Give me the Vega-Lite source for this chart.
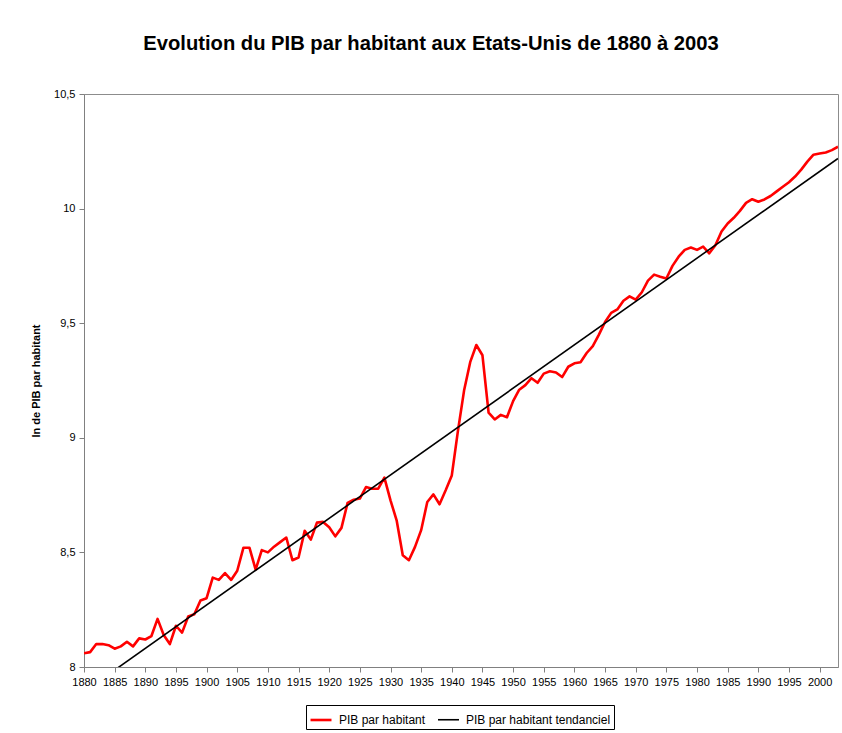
{
  "$schema": "https://vega.github.io/schema/vega-lite/v6.json",
  "width": 754,
  "height": 573,
  "autosize": {"type": "none"},
  "padding": {"left": 84, "top": 94, "right": 4, "bottom": 66},
  "background": "white",
  "config": {
    "font": "Liberation Sans",
    "view": {"stroke": "#8c8c8c", "strokeWidth": 1}
  },
  "title": {
    "text": "Evolution du PIB par habitant aux Etats-Unis de 1880 à 2003",
    "fontSize": 20.2,
    "fontWeight": "bold",
    "color": "#000000",
    "anchor": "middle",
    "dx": -30,
    "offset": 34
  },
  "data": {
    "values": [
      {"annee": 1880, "valeur": 8.06, "serie": "PIB par habitant"},
      {"annee": 1881, "valeur": 8.065, "serie": "PIB par habitant"},
      {"annee": 1882, "valeur": 8.1, "serie": "PIB par habitant"},
      {"annee": 1883, "valeur": 8.1, "serie": "PIB par habitant"},
      {"annee": 1884, "valeur": 8.095, "serie": "PIB par habitant"},
      {"annee": 1885, "valeur": 8.08, "serie": "PIB par habitant"},
      {"annee": 1886, "valeur": 8.09, "serie": "PIB par habitant"},
      {"annee": 1887, "valeur": 8.11, "serie": "PIB par habitant"},
      {"annee": 1888, "valeur": 8.09, "serie": "PIB par habitant"},
      {"annee": 1889, "valeur": 8.125, "serie": "PIB par habitant"},
      {"annee": 1890, "valeur": 8.12, "serie": "PIB par habitant"},
      {"annee": 1891, "valeur": 8.135, "serie": "PIB par habitant"},
      {"annee": 1892, "valeur": 8.21, "serie": "PIB par habitant"},
      {"annee": 1893, "valeur": 8.14, "serie": "PIB par habitant"},
      {"annee": 1894, "valeur": 8.1, "serie": "PIB par habitant"},
      {"annee": 1895, "valeur": 8.18, "serie": "PIB par habitant"},
      {"annee": 1896, "valeur": 8.15, "serie": "PIB par habitant"},
      {"annee": 1897, "valeur": 8.22, "serie": "PIB par habitant"},
      {"annee": 1898, "valeur": 8.23, "serie": "PIB par habitant"},
      {"annee": 1899, "valeur": 8.29, "serie": "PIB par habitant"},
      {"annee": 1900, "valeur": 8.3, "serie": "PIB par habitant"},
      {"annee": 1901, "valeur": 8.39, "serie": "PIB par habitant"},
      {"annee": 1902, "valeur": 8.38, "serie": "PIB par habitant"},
      {"annee": 1903, "valeur": 8.41, "serie": "PIB par habitant"},
      {"annee": 1904, "valeur": 8.38, "serie": "PIB par habitant"},
      {"annee": 1905, "valeur": 8.42, "serie": "PIB par habitant"},
      {"annee": 1906, "valeur": 8.52, "serie": "PIB par habitant"},
      {"annee": 1907, "valeur": 8.52, "serie": "PIB par habitant"},
      {"annee": 1908, "valeur": 8.425, "serie": "PIB par habitant"},
      {"annee": 1909, "valeur": 8.51, "serie": "PIB par habitant"},
      {"annee": 1910, "valeur": 8.5, "serie": "PIB par habitant"},
      {"annee": 1911, "valeur": 8.525, "serie": "PIB par habitant"},
      {"annee": 1912, "valeur": 8.545, "serie": "PIB par habitant"},
      {"annee": 1913, "valeur": 8.565, "serie": "PIB par habitant"},
      {"annee": 1914, "valeur": 8.466, "serie": "PIB par habitant"},
      {"annee": 1915, "valeur": 8.478, "serie": "PIB par habitant"},
      {"annee": 1916, "valeur": 8.594, "serie": "PIB par habitant"},
      {"annee": 1917, "valeur": 8.556, "serie": "PIB par habitant"},
      {"annee": 1918, "valeur": 8.63, "serie": "PIB par habitant"},
      {"annee": 1919, "valeur": 8.633, "serie": "PIB par habitant"},
      {"annee": 1920, "valeur": 8.61, "serie": "PIB par habitant"},
      {"annee": 1921, "valeur": 8.57, "serie": "PIB par habitant"},
      {"annee": 1922, "valeur": 8.607, "serie": "PIB par habitant"},
      {"annee": 1923, "valeur": 8.716, "serie": "PIB par habitant"},
      {"annee": 1924, "valeur": 8.73, "serie": "PIB par habitant"},
      {"annee": 1925, "valeur": 8.735, "serie": "PIB par habitant"},
      {"annee": 1926, "valeur": 8.785, "serie": "PIB par habitant"},
      {"annee": 1927, "valeur": 8.778, "serie": "PIB par habitant"},
      {"annee": 1928, "valeur": 8.778, "serie": "PIB par habitant"},
      {"annee": 1929, "valeur": 8.826, "serie": "PIB par habitant"},
      {"annee": 1930, "valeur": 8.727, "serie": "PIB par habitant"},
      {"annee": 1931, "valeur": 8.64, "serie": "PIB par habitant"},
      {"annee": 1932, "valeur": 8.488, "serie": "PIB par habitant"},
      {"annee": 1933, "valeur": 8.466, "serie": "PIB par habitant"},
      {"annee": 1934, "valeur": 8.524, "serie": "PIB par habitant"},
      {"annee": 1935, "valeur": 8.597, "serie": "PIB par habitant"},
      {"annee": 1936, "valeur": 8.72, "serie": "PIB par habitant"},
      {"annee": 1937, "valeur": 8.753, "serie": "PIB par habitant"},
      {"annee": 1938, "valeur": 8.71, "serie": "PIB par habitant"},
      {"annee": 1939, "valeur": 8.771, "serie": "PIB par habitant"},
      {"annee": 1940, "valeur": 8.836, "serie": "PIB par habitant"},
      {"annee": 1941, "valeur": 9.03, "serie": "PIB par habitant"},
      {"annee": 1942, "valeur": 9.206, "serie": "PIB par habitant"},
      {"annee": 1943, "valeur": 9.33, "serie": "PIB par habitant"},
      {"annee": 1944, "valeur": 9.405, "serie": "PIB par habitant"},
      {"annee": 1945, "valeur": 9.36, "serie": "PIB par habitant"},
      {"annee": 1946, "valeur": 9.11, "serie": "PIB par habitant"},
      {"annee": 1947, "valeur": 9.08, "serie": "PIB par habitant"},
      {"annee": 1948, "valeur": 9.1, "serie": "PIB par habitant"},
      {"annee": 1949, "valeur": 9.09, "serie": "PIB par habitant"},
      {"annee": 1950, "valeur": 9.16, "serie": "PIB par habitant"},
      {"annee": 1951, "valeur": 9.21, "serie": "PIB par habitant"},
      {"annee": 1952, "valeur": 9.23, "serie": "PIB par habitant"},
      {"annee": 1953, "valeur": 9.26, "serie": "PIB par habitant"},
      {"annee": 1954, "valeur": 9.24, "serie": "PIB par habitant"},
      {"annee": 1955, "valeur": 9.28, "serie": "PIB par habitant"},
      {"annee": 1956, "valeur": 9.29, "serie": "PIB par habitant"},
      {"annee": 1957, "valeur": 9.285, "serie": "PIB par habitant"},
      {"annee": 1958, "valeur": 9.265, "serie": "PIB par habitant"},
      {"annee": 1959, "valeur": 9.31, "serie": "PIB par habitant"},
      {"annee": 1960, "valeur": 9.325, "serie": "PIB par habitant"},
      {"annee": 1961, "valeur": 9.33, "serie": "PIB par habitant"},
      {"annee": 1962, "valeur": 9.37, "serie": "PIB par habitant"},
      {"annee": 1963, "valeur": 9.4, "serie": "PIB par habitant"},
      {"annee": 1964, "valeur": 9.45, "serie": "PIB par habitant"},
      {"annee": 1965, "valeur": 9.505, "serie": "PIB par habitant"},
      {"annee": 1966, "valeur": 9.545, "serie": "PIB par habitant"},
      {"annee": 1967, "valeur": 9.56, "serie": "PIB par habitant"},
      {"annee": 1968, "valeur": 9.598, "serie": "PIB par habitant"},
      {"annee": 1969, "valeur": 9.617, "serie": "PIB par habitant"},
      {"annee": 1970, "valeur": 9.603, "serie": "PIB par habitant"},
      {"annee": 1971, "valeur": 9.635, "serie": "PIB par habitant"},
      {"annee": 1972, "valeur": 9.686, "serie": "PIB par habitant"},
      {"annee": 1973, "valeur": 9.712, "serie": "PIB par habitant"},
      {"annee": 1974, "valeur": 9.703, "serie": "PIB par habitant"},
      {"annee": 1975, "valeur": 9.695, "serie": "PIB par habitant"},
      {"annee": 1976, "valeur": 9.75, "serie": "PIB par habitant"},
      {"annee": 1977, "valeur": 9.79, "serie": "PIB par habitant"},
      {"annee": 1978, "valeur": 9.82, "serie": "PIB par habitant"},
      {"annee": 1979, "valeur": 9.83, "serie": "PIB par habitant"},
      {"annee": 1980, "valeur": 9.82, "serie": "PIB par habitant"},
      {"annee": 1981, "valeur": 9.834, "serie": "PIB par habitant"},
      {"annee": 1982, "valeur": 9.805, "serie": "PIB par habitant"},
      {"annee": 1983, "valeur": 9.84, "serie": "PIB par habitant"},
      {"annee": 1984, "valeur": 9.9, "serie": "PIB par habitant"},
      {"annee": 1985, "valeur": 9.935, "serie": "PIB par habitant"},
      {"annee": 1986, "valeur": 9.96, "serie": "PIB par habitant"},
      {"annee": 1987, "valeur": 9.99, "serie": "PIB par habitant"},
      {"annee": 1988, "valeur": 10.025, "serie": "PIB par habitant"},
      {"annee": 1989, "valeur": 10.041, "serie": "PIB par habitant"},
      {"annee": 1990, "valeur": 10.03, "serie": "PIB par habitant"},
      {"annee": 1991, "valeur": 10.04, "serie": "PIB par habitant"},
      {"annee": 1992, "valeur": 10.055, "serie": "PIB par habitant"},
      {"annee": 1993, "valeur": 10.075, "serie": "PIB par habitant"},
      {"annee": 1994, "valeur": 10.095, "serie": "PIB par habitant"},
      {"annee": 1995, "valeur": 10.115, "serie": "PIB par habitant"},
      {"annee": 1996, "valeur": 10.14, "serie": "PIB par habitant"},
      {"annee": 1997, "valeur": 10.17, "serie": "PIB par habitant"},
      {"annee": 1998, "valeur": 10.205, "serie": "PIB par habitant"},
      {"annee": 1999, "valeur": 10.235, "serie": "PIB par habitant"},
      {"annee": 2000, "valeur": 10.24, "serie": "PIB par habitant"},
      {"annee": 2001, "valeur": 10.245, "serie": "PIB par habitant"},
      {"annee": 2002, "valeur": 10.255, "serie": "PIB par habitant"},
      {"annee": 2003, "valeur": 10.27, "serie": "PIB par habitant"},
      {"annee": 1880, "valeur": 7.892, "serie": "PIB par habitant tendanciel"},
      {"annee": 2003, "valeur": 10.219, "serie": "PIB par habitant tendanciel"}
    ]
  },
  "mark": {"type": "line", "clip": true, "strokeJoin": "round"},
  "encoding": {
    "x": {
      "field": "annee",
      "type": "quantitative",
      "scale": {"domain": [1880, 2003], "nice": false, "zero": false},
      "axis": {
        "title": null,
        "values": [1880, 1885, 1890, 1895, 1900, 1905, 1910, 1915, 1920, 1925, 1930, 1935, 1940, 1945, 1950, 1955, 1960, 1965, 1970, 1975, 1980, 1985, 1990, 1995, 2000],
        "format": "d",
        "grid": false,
        "labelFont": "Liberation Sans",
        "labelFontSize": 11,
        "labelColor": "#000000",
        "labelPadding": 4,
        "labelOverlap": false,
        "labelFlush": false,
        "domainColor": "#808080",
        "tickColor": "#808080",
        "tickSize": 5
      }
    },
    "y": {
      "field": "valeur",
      "type": "quantitative",
      "scale": {"domain": [8, 10.5], "nice": false, "zero": false},
      "axis": {
        "title": "ln de PIB par habitant",
        "titleFont": "Liberation Sans",
        "titleFontSize": 11,
        "titleFontWeight": "bold",
        "titleColor": "#000000",
        "titlePadding": 12,
        "values": [8, 8.5, 9, 9.5, 10, 10.5],
        "labelExpr": "replace(toString(datum.value), '.', ',')",
        "grid": false,
        "labelFont": "Liberation Sans",
        "labelFontSize": 11,
        "labelColor": "#000000",
        "labelPadding": 4,
        "labelFlush": false,
        "domainColor": "#808080",
        "tickColor": "#808080",
        "tickSize": 5
      }
    },
    "color": {
      "field": "serie",
      "type": "nominal",
      "scale": {"domain": ["PIB par habitant", "PIB par habitant tendanciel"], "range": ["#ff0000", "#000000"]},
      "legend": {
        "title": null,
        "orient": "none",
        "legendX": 222,
        "legendY": 611,
        "direction": "horizontal",
        "symbolType": "stroke",
        "symbolSize": 440,
        "symbolStrokeWidth": 2,
        "labelFont": "Liberation Sans",
        "labelFontSize": 12,
        "labelColor": "#000000",
        "labelOffset": 6,
        "strokeColor": "#000000",
        "padding": 3,
        "columnPadding": 8
      }
    },
    "strokeWidth": {
      "field": "serie",
      "type": "nominal",
      "scale": {"domain": ["PIB par habitant", "PIB par habitant tendanciel"], "range": [2.6, 1.6]},
      "legend": null
    }
  }
}
